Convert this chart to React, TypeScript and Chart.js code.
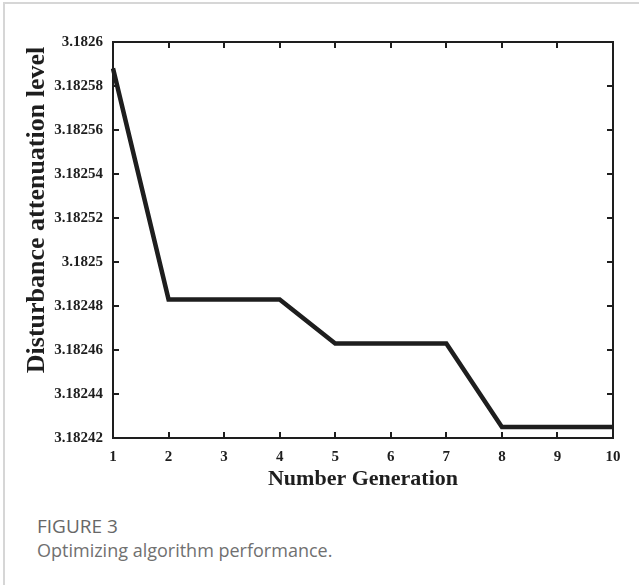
import React, { useEffect, useRef } from 'react';
import { Chart, registerables } from 'chart.js';

Chart.register(...registerables);

const generations = ['1', '2', '3', '4', '5', '6', '7', '8', '9', '10'];
const attenuation = [
  3.182588, 3.182483, 3.182483, 3.182483, 3.182463, 3.182463, 3.182463, 3.182425, 3.182425, 3.182425,
];
const yTickValues = [3.18242, 3.18244, 3.18246, 3.18248, 3.1825, 3.18252, 3.18254, 3.18256, 3.18258, 3.1826];
const yMin = 3.18242;
const yMax = 3.1826;
const xTitle = 'Number Generation';
const yTitle = 'Disturbance attenuation level';
const captionHead = 'FIGURE 3';
const captionText = 'Optimizing algorithm performance.';

const SERIF = '"Liberation Serif", "Times New Roman", Times, serif';
const INK = '#1e1e1e';

const framePlugin = {
  id: 'matlabFrame',
  afterDraw(chart: any) {
    const { ctx, chartArea: a, scales } = chart;
    ctx.save();
    ctx.strokeStyle = INK;
    ctx.lineWidth = 2;
    ctx.strokeRect(a.left, a.top, a.right - a.left, a.bottom - a.top);
    const L = 6;
    ctx.beginPath();
    const xs = scales.x;
    xs.ticks.forEach((_t: any, i: number) => {
      const px = Math.round(xs.getPixelForTick(i));
      ctx.moveTo(px, a.bottom);
      ctx.lineTo(px, a.bottom - L);
      ctx.moveTo(px, a.top);
      ctx.lineTo(px, a.top + L);
    });
    const ys = scales.y;
    ys.ticks.forEach((_t: any, i: number) => {
      const py = Math.round(ys.getPixelForTick(i));
      ctx.moveTo(a.left, py);
      ctx.lineTo(a.left + L, py);
      ctx.moveTo(a.right, py);
      ctx.lineTo(a.right - L, py);
    });
    ctx.stroke();
    // vertical axis title (placed slightly above the plot centre, as in the original)
    const cy = (a.top + a.bottom) / 2 - 30;
    ctx.translate(37, cy);
    ctx.rotate(-Math.PI / 2);
    ctx.font = `bold 26px ${SERIF}`;
    ctx.textAlign = 'center';
    ctx.textBaseline = 'middle';
    ctx.fillStyle = INK;
    ctx.fillText(yTitle, 0, 0);
    ctx.restore();
  },
};

export default function App() {
  const canvasRef = useRef<HTMLCanvasElement | null>(null);

  useEffect(() => {
    if (!canvasRef.current) return;
    const tickFont = { family: SERIF, weight: 'bold' as const, size: 15 };
    const chart = new Chart(canvasRef.current, {
      type: 'line',
      data: {
        labels: generations,
        datasets: [
          {
            data: attenuation,
            borderColor: INK,
            borderWidth: 4.5,
            pointRadius: 0,
            tension: 0,
            fill: false,
          },
        ],
      },
      options: {
        animation: false,
        responsive: false,
        devicePixelRatio: 1,
        layout: { padding: { left: 0, top: 42, right: 26, bottom: 0 } },
        plugins: { legend: { display: false }, tooltip: { enabled: false } },
        scales: {
          x: {
            type: 'category',
            offset: false,
            grid: { display: false, drawTicks: false },
            border: { display: false },
            ticks: { color: INK, font: tickFont, padding: 10, maxRotation: 0, autoSkip: false },
            title: {
              display: true,
              text: xTitle,
              color: INK,
              font: { family: SERIF, weight: 'bold', size: 22 },
              padding: { top: 0, bottom: 7 },
            },
            afterFit: (s: any) => {
              s.height = 62;
            },
          },
          y: {
            type: 'linear',
            min: yMin,
            max: yMax,
            grid: { display: false, drawTicks: false },
            border: { display: false },
            afterBuildTicks: (s: any) => {
              s.ticks = yTickValues.map((v) => ({ value: v }));
            },
            ticks: {
              color: INK,
              font: tickFont,
              padding: 10,
              callback: (v: any) => String(+Number(v).toFixed(5)),
            },
            afterFit: (s: any) => {
              s.width = 113;
            },
          },
        },
      },
      plugins: [framePlugin],
    });
    return () => chart.destroy();
  }, []);

  return (
    <div
      style={{
        position: 'absolute',
        left: 0,
        top: 0,
        width: 639,
        height: 585,
        background: '#fff',
        overflow: 'hidden',
      }}
    >
      <div style={{ position: 'absolute', left: 3, top: 2, width: 636, height: 2, background: '#d6d6d6' }} />
      <div style={{ position: 'absolute', left: 3, top: 2, width: 2, height: 583, background: '#d6d6d6' }} />
      <canvas
        ref={canvasRef}
        width={639}
        height={500}
        style={{ position: 'absolute', left: 0, top: 0, width: 639, height: 500, display: 'block' }}
      />
      <div
        style={{
          position: 'absolute',
          left: 37,
          top: 513,
          fontFamily: '"Open Sans", "Noto Sans", sans-serif',
          fontSize: 19,
          lineHeight: '26px',
          color: '#676767',
          whiteSpace: 'nowrap',
        }}
      >
        {captionHead}
      </div>
      <div
        style={{
          position: 'absolute',
          left: 37,
          top: 538,
          fontFamily: '"Open Sans", "Noto Sans", sans-serif',
          fontSize: 18,
          lineHeight: '24px',
          color: '#707070',
          whiteSpace: 'nowrap',
        }}
      >
        {captionText}
      </div>
    </div>
  );
}
